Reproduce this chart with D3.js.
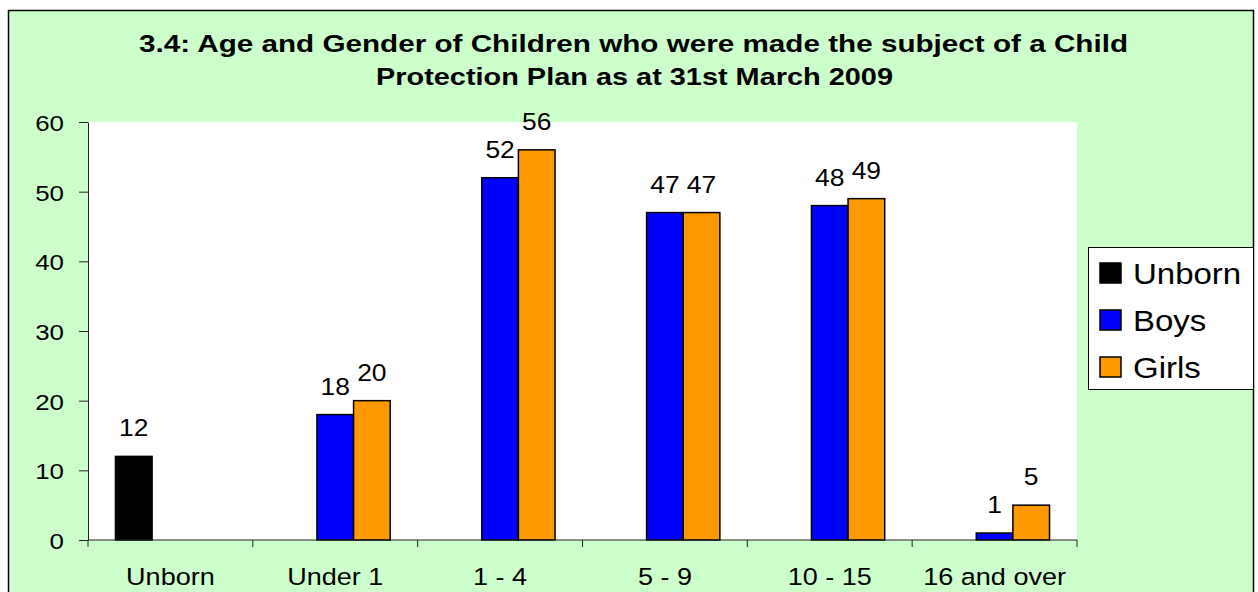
<!DOCTYPE html>
<html>
<head>
<meta charset="utf-8">
<script src="https://cdn.jsdelivr.net/npm/d3@7"></script>
<style>
  body { margin: 0; background: #fff; }
  svg { display: block; font-family: "Liberation Sans", Arial, sans-serif; }
</style>
</head>
<body>
<script>
// chart values
const categories = ["Unborn", "Under 1", "1 - 4", "5 - 9", "10 - 15", "16 and over"];
const seriesNames = ["Unborn", "Boys", "Girls"];
const unbornVals = [12, null, null, null, null, null];
const boysVals = [null, 18, 52, 47, 48, 1];
const girlsVals = [null, 20, 56, 47, 49, 5];
const seriesColors = ["#000000", "#0000FF", "#FF9900"];
const yTicks = [0, 10, 20, 30, 40, 50, 60];
const titleLines = [
    "3.4: Age and Gender of Children who were made the subject of a Child",
    "Protection Plan as at 31st March 2009"
];

const width = 1258, height = 592;
const plot = { left: 88, right: 1077, top: 122, bottom: 540 };
const stretch = 1.15; // the original text is drawn a bit wide

let svg = d3.select("body").append("svg")
    .attr("width", width)
    .attr("height", height);

// text placed with a horizontal stretch
function wideText(g, x, y, str, size, anchor) {
    return g.append("text")
        .attr("transform", `translate(${x},${y}) scale(${stretch},1)`)
        .attr("text-anchor", anchor || "middle")
        .style("font-size", size + "px")
        .text(str);
}

// chart area background + border
svg.append("rect")
    .attr("x", 8.5).attr("y", 10.5)
    .attr("width", 1245).attr("height", 600)
    .attr("fill", "#CCFFCC")
    .attr("stroke", "#000")
    .attr("stroke-width", 1.5);

svg.append("rect")
    .attr("x", plot.left).attr("y", plot.top)
    .attr("width", plot.right - plot.left)
    .attr("height", plot.bottom - plot.top)
    .attr("fill", "#fff");

// title
const titleWidths = [989, 517];
svg.append("g").selectAll("text")
    .data(titleLines)
    .join("text")
    .attr("x", (d, i) => i == 0 ? 633.5 : 634.5)
    .attr("y", (d, i) => 52 + i * 33)
    .attr("text-anchor", "middle")
    .attr("textLength", (d, i) => titleWidths[i])
    .attr("lengthAdjust", "spacingAndGlyphs")
    .style("font-weight", "bold")
    .style("font-size", "24px")
    .text(d => d);

let x0 = d3.scaleBand()
    .domain(categories)
    .range([plot.left, plot.right]);

let x1 = d3.scaleBand()
    .domain(seriesNames)
    .range([0, x0.bandwidth()])
    .paddingInner(0)
    .paddingOuter(0.75);

let y = d3.scaleLinear()
    .domain([0, 60])
    .range([plot.bottom, plot.top]);

let rows = [];
[unbornVals, boysVals, girlsVals].forEach(function (vals, s) {
    vals.forEach(function (v, i) {
        if (v != null) rows.push({ cat: categories[i], ser: seriesNames[s], value: v, color: seriesColors[s] });
    });
});

// bars
svg.append("g").selectAll("rect")
    .data(rows)
    .join("rect")
    .attr("x", d => x0(d.cat) + x1(d.ser))
    .attr("y", d => y(d.value))
    .attr("width", x1.bandwidth())
    .attr("height", d => y(0) - y(d.value))
    .attr("fill", d => d.color)
    .attr("stroke", "#000")
    .attr("stroke-width", 1.5);

// data labels
let lblG = svg.append("g");
rows.forEach(function (d) {
    wideText(lblG, x0(d.cat) + x1(d.ser) + x1.bandwidth() / 2, y(d.value) - 20, d.value, 23);
});

// y axis (labels drawn separately)
let yAxis = svg.append("g")
    .attr("transform", `translate(${plot.left},0)`)
    .call(d3.axisLeft(y).tickValues(yTicks).tickSize(9).tickSizeOuter(0).tickFormat(""));
yAxis.selectAll("line, path").attr("stroke", "#222");
let yLbl = svg.append("g");
yTicks.forEach(function (t) {
    wideText(yLbl, 64, y(t) + 9, t, 22.5, "end");
});

// x axis: ticks at category boundaries
let xAxis = svg.append("g")
    .attr("transform", `translate(0,${plot.bottom})`);
xAxis.append("line")
    .attr("x1", plot.left).attr("x2", plot.right)
    .attr("stroke", "#222");
xAxis.selectAll(".tk")
    .data(categories.concat(["end"]))
    .join("line")
    .attr("class", "tk")
    .attr("x1", (d, i) => i < categories.length ? x0(d) : plot.right)
    .attr("x2", (d, i) => i < categories.length ? x0(d) : plot.right)
    .attr("y1", 0).attr("y2", 7)
    .attr("stroke", "#222");
categories.forEach(function (c) {
    wideText(xAxis, x0(c) + x0.bandwidth() / 2, 45, c, 23.5);
});

// legend
let legend = svg.append("g").attr("transform", "translate(1088,247)");
legend.append("rect")
    .attr("x", 0.5).attr("y", 0.5)
    .attr("width", 165).attr("height", 142)
    .attr("fill", "#fff")
    .attr("stroke", "#000")
    .attr("stroke-width", 1);
let items = legend.selectAll(".item")
    .data(seriesNames)
    .join("g")
    .attr("class", "item")
    .attr("transform", (d, i) => `translate(12,${26 + i * 47})`);
items.append("rect")
    .attr("x", 0).attr("y", -10)
    .attr("width", 21).attr("height", 20)
    .attr("fill", (d, i) => seriesColors[i])
    .attr("stroke", "#000")
    .attr("stroke-width", 1.5);
items.append("text")
    .attr("transform", "translate(33,11) scale(1.1,1)")
    .style("font-size", "30px")
    .text(d => d);
</script>
</body>
</html>
